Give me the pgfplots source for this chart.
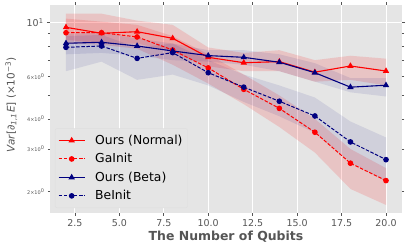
\documentclass[border=0pt]{standalone}
\usepackage{fontspec}
\setmainfont{DejaVu Sans}
\usepackage{pgfplots}
\usepackage{pgfplotstable}
\pgfplotsset{compat=1.18}
\definecolor{bg}{HTML}{E5E5E5}
\definecolor{tk}{HTML}{555555}
\definecolor{navyc}{rgb}{0,0,0.5}

\pgfplotstableread{
x  nm    gm    bm    em
2  9.57  9.09  8.22  7.91
4  9.04  9.09  8.30  8.01
6  9.18  8.73  8.01  7.12
8  8.62  7.71  7.64  7.52
10 7.19  6.50  7.31  6.21
12 6.83  5.30  7.19  5.41
14 6.90  4.42  6.86  4.73
16 6.24  3.52  6.21  4.11
18 6.62  2.62  5.41  3.21
20 6.31  2.22  5.51  2.71
}\data

\begin{document}
\begin{tikzpicture}
\begin{axis}[
  scale only axis, width=352bp, height=208bp,
  xmin=1.1, xmax=20.9,
  ymode=log, ymin=1.63, ymax=11.84,
  axis background/.style={fill=bg},
  axis line style={draw=none},
  grid=major,
  major grid style={white, line width=0.9bp},
  tick align=outside,
  tick style={tk, line width=0.6bp},
  major tick length=3bp, minor tick length=2bp,
  xtick={2.5,5,7.5,10,12.5,15,17.5,20},
  xticklabel style={font=\fontsize{9.5}{11}\selectfont, text=tk,
    /pgf/number format/.cd, fixed, fixed zerofill, precision=1, assume math mode=true},
  ytick={10},
  yticklabels={10\textsuperscript{1}},
  yticklabel style={font=\fontsize{9.5}{11}\selectfont, text=tk},
  minor ytick={2,3,4,5,6,7,8,9},
  extra y ticks={2,3,4,6},
  extra y tick labels={2×10\textsuperscript{0},3×10\textsuperscript{0},4×10\textsuperscript{0},6×10\textsuperscript{0}},
  extra y tick style={grid=none, major tick length=2bp,
    yticklabel style={font=\fontsize{5}{6}\selectfont, text=tk}},
  xlabel={\bfseries The Number of Qubits},
  xlabel style={font=\fontsize{12.5}{14}\selectfont, text=tk, at={(axis description cs:0.5,-0.115)}, anchor=center},
  ylabel={\textit{Var}[\textit{∂}\textsubscript{\textit{1,1}}\textit{E}] (×10\textsuperscript{−3})},
  ylabel style={font=\fontsize{10.5}{12}\selectfont, text=tk, at={(axis description cs:-0.11,0.52)}, anchor=center},
  legend style={at={(0.014,0.024)}, anchor=south west, fill=bg, draw=black!13,
    rounded corners=2bp, font=\fontsize{12.4}{14}\selectfont, row sep=3.6bp,
    inner xsep=3bp, inner ysep=4.5bp,
    /tikz/every odd column/.append style={column sep=8bp}},
  legend cell align=left,
  legend image code/.code={\draw[mark repeat=2,mark phase=2] plot coordinates {(0bp,0bp) (13bp,0bp) (26bp,0bp)};},
]
% bands
\addplot[forget plot, draw=none, fill=red, fill opacity=0.14] coordinates {
 (2,10.9)(4,10.9)(6,10.2)(8,9.8)(10,7.9)(12,7.5)(14,7.7)(16,7.0)(18,7.3)(20,7.1)
 (20,5.5)(18,5.8)(16,5.7)(14,6.3)(12,6.3)(10,6.6)(8,7.6)(6,8.2)(4,8.2)(2,8.5)} --cycle;
\addplot[forget plot, draw=none, fill=red, fill opacity=0.14] coordinates {
 (2,10.4)(4,10.1)(6,9.8)(8,8.8)(10,7.4)(12,6.1)(14,5.0)(16,4.0)(18,3.0)(20,2.5)
 (20,1.76)(18,2.05)(16,2.9)(14,3.7)(12,4.6)(10,5.6)(8,6.7)(6,7.8)(4,8.1)(2,8.2)} --cycle;
\addplot[forget plot, draw=none, fill=navyc, fill opacity=0.09] coordinates {
 (2,9.0)(4,9.1)(6,8.6)(8,8.2)(10,7.7)(12,7.7)(14,7.4)(16,6.8)(18,5.9)(20,5.9)
 (20,4.95)(18,5.15)(16,5.7)(14,6.3)(12,6.7)(10,6.9)(8,7.0)(6,7.3)(4,7.5)(2,7.4)} --cycle;
\addplot[forget plot, draw=none, fill=navyc, fill opacity=0.09] coordinates {
 (2,8.8)(4,8.9)(6,7.9)(8,8.2)(10,7.0)(12,6.1)(14,5.5)(16,4.9)(18,3.9)(20,3.35)
 (20,2.2)(18,2.65)(16,3.5)(14,4.1)(12,4.7)(10,5.5)(8,6.1)(6,5.8)(4,6.9)(2,6.3)} --cycle;
% means
\addplot[red, line width=1.1bp, mark=triangle*, mark size=2.6bp] table[x=x,y=nm]{\data};
\addlegendentry{Ours (Normal)}
\addplot[red, line width=1bp, dash pattern=on 3.5bp off 1.6bp, mark=*, mark size=2.3bp, mark options={solid}] table[x=x,y=gm]{\data};
\addlegendentry{GaInit}
\addplot[navyc, line width=1.1bp, mark=triangle*, mark size=2.6bp] table[x=x,y=bm]{\data};
\addlegendentry{Ours (Beta)}
\addplot[navyc, line width=1bp, dash pattern=on 3.5bp off 1.6bp, mark=*, mark size=2.3bp, mark options={solid}] table[x=x,y=em]{\data};
\addlegendentry{BeInit}
\end{axis}
\pgfresetboundingbox
\path (-50bp,-35bp) rectangle (357bp,213bp);
\end{tikzpicture}
\end{document}
